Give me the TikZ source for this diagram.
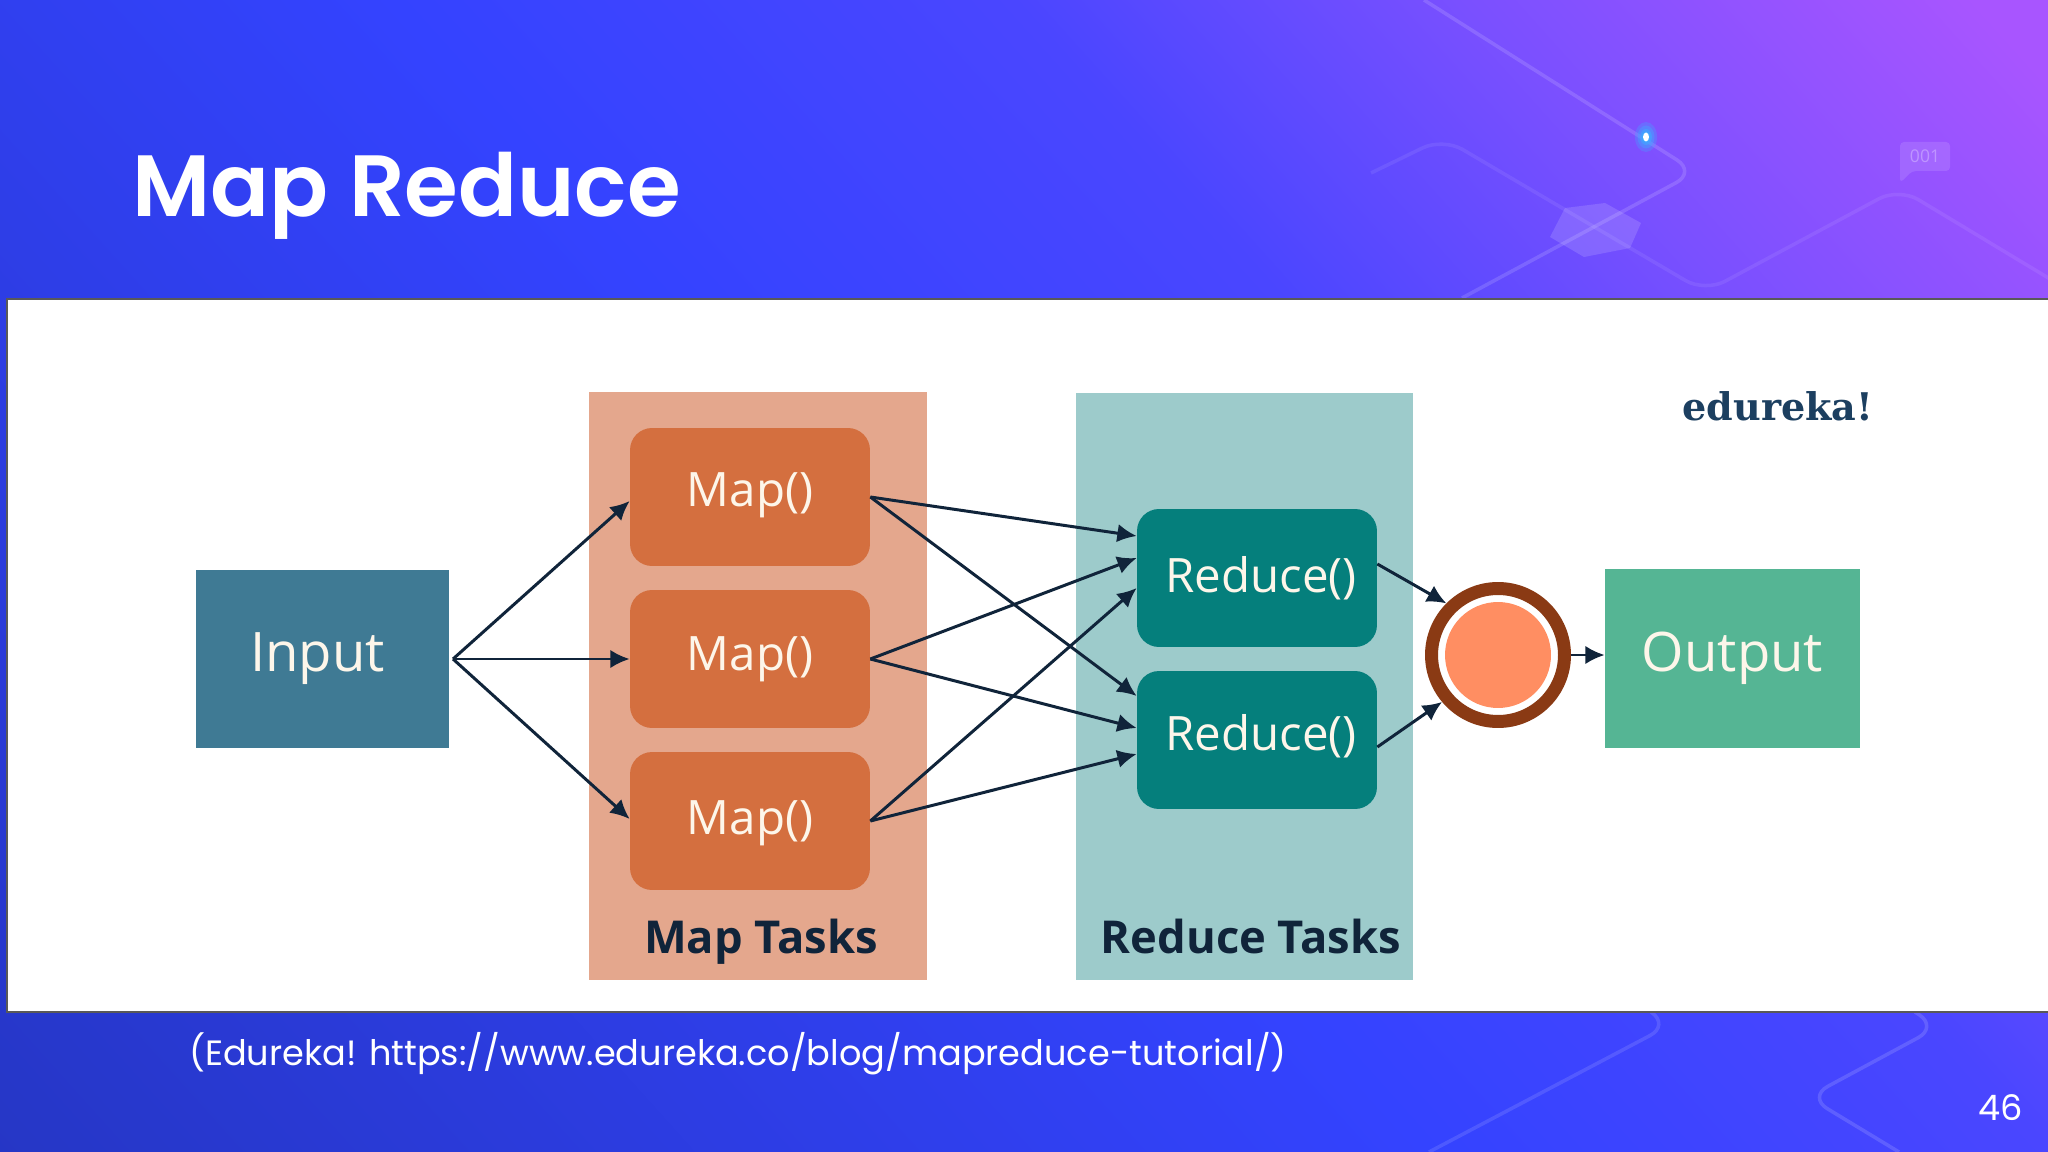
\documentclass[tikz,border=0pt]{standalone}
\usepackage{fontspec}
\setmainfont{Poppins}
\newfontfamily\titlefont{Poppins SemiBold}
\newfontfamily\boxfont{Open Sans}
\newfontfamily\logofont{DejaVu Serif}
\usetikzlibrary{arrows.meta,calc}
\definecolor{inputcol}{HTML}{3F7A94}
\definecolor{outputcol}{HTML}{55B594}
\definecolor{mappanel}{HTML}{E4A78D}
\definecolor{mapcol}{HTML}{D46F3F}
\definecolor{reducepanel}{HTML}{9DCBCB}
\definecolor{reducecol}{HTML}{057F7C}
\definecolor{ringcol}{HTML}{8A3A14}
\definecolor{dotcol}{HTML}{FF8E62}
\definecolor{arrowcol}{HTML}{10243A}
\definecolor{creamcol}{HTML}{FDF6EA}
\definecolor{logocol}{HTML}{1C3F60}
\definecolor{glowcol}{HTML}{3FA8FF}
\definecolor{bgdark}{HTML}{2536C4}
\definecolor{bgmid}{HTML}{3443FF}
\definecolor{bglift}{HTML}{4A46FF}
\definecolor{bgviolet}{HTML}{7A50FF}
\definecolor{bgpurple}{HTML}{A855FF}
\pgfdeclarehorizontalshading{slideshade}{100bp}{color(0bp)=(bgdark); color(22bp)=(bgdark); color(48bp)=(bgmid); color(59bp)=(bglift); color(67bp)=(bgviolet); color(76bp)=(bgpurple); color(100bp)=(bgpurple)}
\tikzset{
  flatbox/.style={inner sep=0pt,text=creamcol,font=\boxfont\fontsize{31}{36}\selectfont},
  taskbox/.style={flatbox,rounded corners=0.44cm,font=\boxfont\fontsize{27}{32}\selectfont},
  mapbox/.style={taskbox,fill=mapcol,minimum width=4.8cm,minimum height=2.76cm},
  reducebox/.style={taskbox,fill=reducecol,minimum width=4.8cm,minimum height=2.76cm},
  panel/.style={inner sep=0pt,minimum width=6.78cm,minimum height=11.76cm},
  tasklabel/.style={text=arrowcol,text height=0.75em,text depth=0.25em,font=\boxfont\bfseries\fontsize{25.8}{30}\selectfont},
  flow/.style={-{Latex[length=11pt,width=10.5pt]},line width=1.7pt,arrowcol},
  glowline/.style={white,opacity=0.14,line width=2pt,rounded corners=0.45cm}
}
\begin{document}
\begin{tikzpicture}[x=0.02cm,y=-0.02cm]
\useasboundingbox (0,0) rectangle (2048,1152);
\begin{scope}
\clip (0,0) rectangle (2048,1152);
\shade[shading=slideshade,shading angle=42] (-26,-474) rectangle (2074,1626);
\end{scope}

% background lines
\draw[glowline] (1424,0) -- (1696,172) -- (1462,298);
\draw[glowline,opacity=0.08] (1371,173) -- (1443,138) -- (1705,292) -- (1899,188) -- (2060,285);
\draw[glowline,opacity=0.12] (1651,1012) -- (1670,1025) -- (1429,1152);
\draw[glowline] (1915,1012) -- (1938,1027) -- (1808,1097) -- (1899,1152);
\fill[white,opacity=0.14] (1565,208) -- (1605,203) -- (1641,223) -- (1630,248) -- (1584,257) -- (1550,237) -- cycle;
\foreach \r/\o in {13/0.3,10/0.4,7/0.6,5/0.8}
  \fill[glowcol,opacity=\o] (1646,137) ellipse ({\r*0.85} and {\r*1.15});
\fill[white] (1646,137) ellipse (3 and 4.5);
\fill[white,opacity=0.12,rounded corners=0.08cm] (1900,142) -- (1950,142) -- (1950,171) -- (1912,171) -- (1900,183) -- cycle;
\node[text=white,opacity=0.3,font=\boxfont\fontsize{10}{12}\selectfont] (bubble) at (1925,156) {001};

% white sheet
\draw[fill=white,draw=black!65,line width=1.2pt] (7,299) rectangle (2060,1012);

% panels
\node[panel,fill=mappanel] (mappanel) at (758,686) {};
\node[panel,fill=reducepanel,minimum width=6.76cm] (reducepanel) at (1244.5,686.5) {};

% boxes
\node[flatbox,fill=inputcol,minimum width=5.06cm,minimum height=3.56cm] (input) at (322.5,659) {\hspace*{-0.2cm}Input};
\node[flatbox,fill=outputcol,minimum width=5.1cm,minimum height=3.58cm] (output) at (1732.5,658.5) {Output};
\node[mapbox] (map1) at (750,497) {\raisebox{0.04cm}[\height][\depth]{Map()}};
\node[mapbox] (map2) at (750,659) {Map()};
\node[mapbox] (map3) at (750,821) {\raisebox{-0.04cm}[\height][\depth]{Map()}};
\node[reducebox] (reduce1) at (1257,578) {\hspace*{0.16cm}Reduce()};
\node[reducebox] (reduce2) at (1257,740) {\hspace*{0.16cm}\raisebox{0.08cm}[\height][\depth]{Reduce()}};
\node[circle,fill=white,draw=ringcol,line width=0.26cm,minimum size=2.66cm,inner sep=0pt] (ring) at (1498,655) {};
\node[circle,fill=dotcol,minimum size=2.12cm,inner sep=0pt] (dot) at (1498,655) {};

% labels
\node[tasklabel] (maplabel) at (761,949) {Map Tasks};
\node[tasklabel] (reducelabel) at (1251,949) {Reduce Tasks};
\node[text=logocol,font=\logofont\bfseries\fontsize{21.7}{26}\selectfont] (logo) at (1778,406) {edureka!};
\node[text=white,font=\titlefont\fontsize{49.5}{60}\selectfont,anchor=west] (title) at (126,196) {Map Reduce};
\node[text=white,font=\fontsize{20}{24}\selectfont,anchor=west] (source) at (183,1054) {(Edureka! https://www.edureka.co/blog/mapreduce-tutorial/)};
\node[text=white,font=\fontsize{20}{24}\selectfont] (pagenum) at (2001,1108) {46};

% arrows
\coordinate (split) at (453,659);
\draw[flow] (split) -- ($(map1.west)+(0,4)$);
\draw[flow] (split) -- (map2.west);
\draw[flow] (split) -- ($(map3.west)+(0,-2)$);
\draw[flow] (map1.east) -- ($(reduce1.west)+(0,-42)$);
\draw[flow] (map1.east) -- ($(reduce2.west)+(0,-44)$);
\draw[flow] (map2.east) -- ($(reduce1.west)+(0,-20)$);
\draw[flow] (map2.east) -- ($(reduce2.west)+(0,-12)$);
\draw[flow] (map3.east) -- ($(reduce1.west)+(0,10)$);
\draw[flow] (map3.east) -- ($(reduce2.west)+(0,14)$);
\draw[flow] ($(reduce1.east)+(0,-14)$) -- (ring.135);
\draw[flow] ($(reduce2.east)+(0,7)$) -- (ring.220);
\draw[flow] (ring.east) -- (ring.east -| output.west);
\end{tikzpicture}
\end{document}
